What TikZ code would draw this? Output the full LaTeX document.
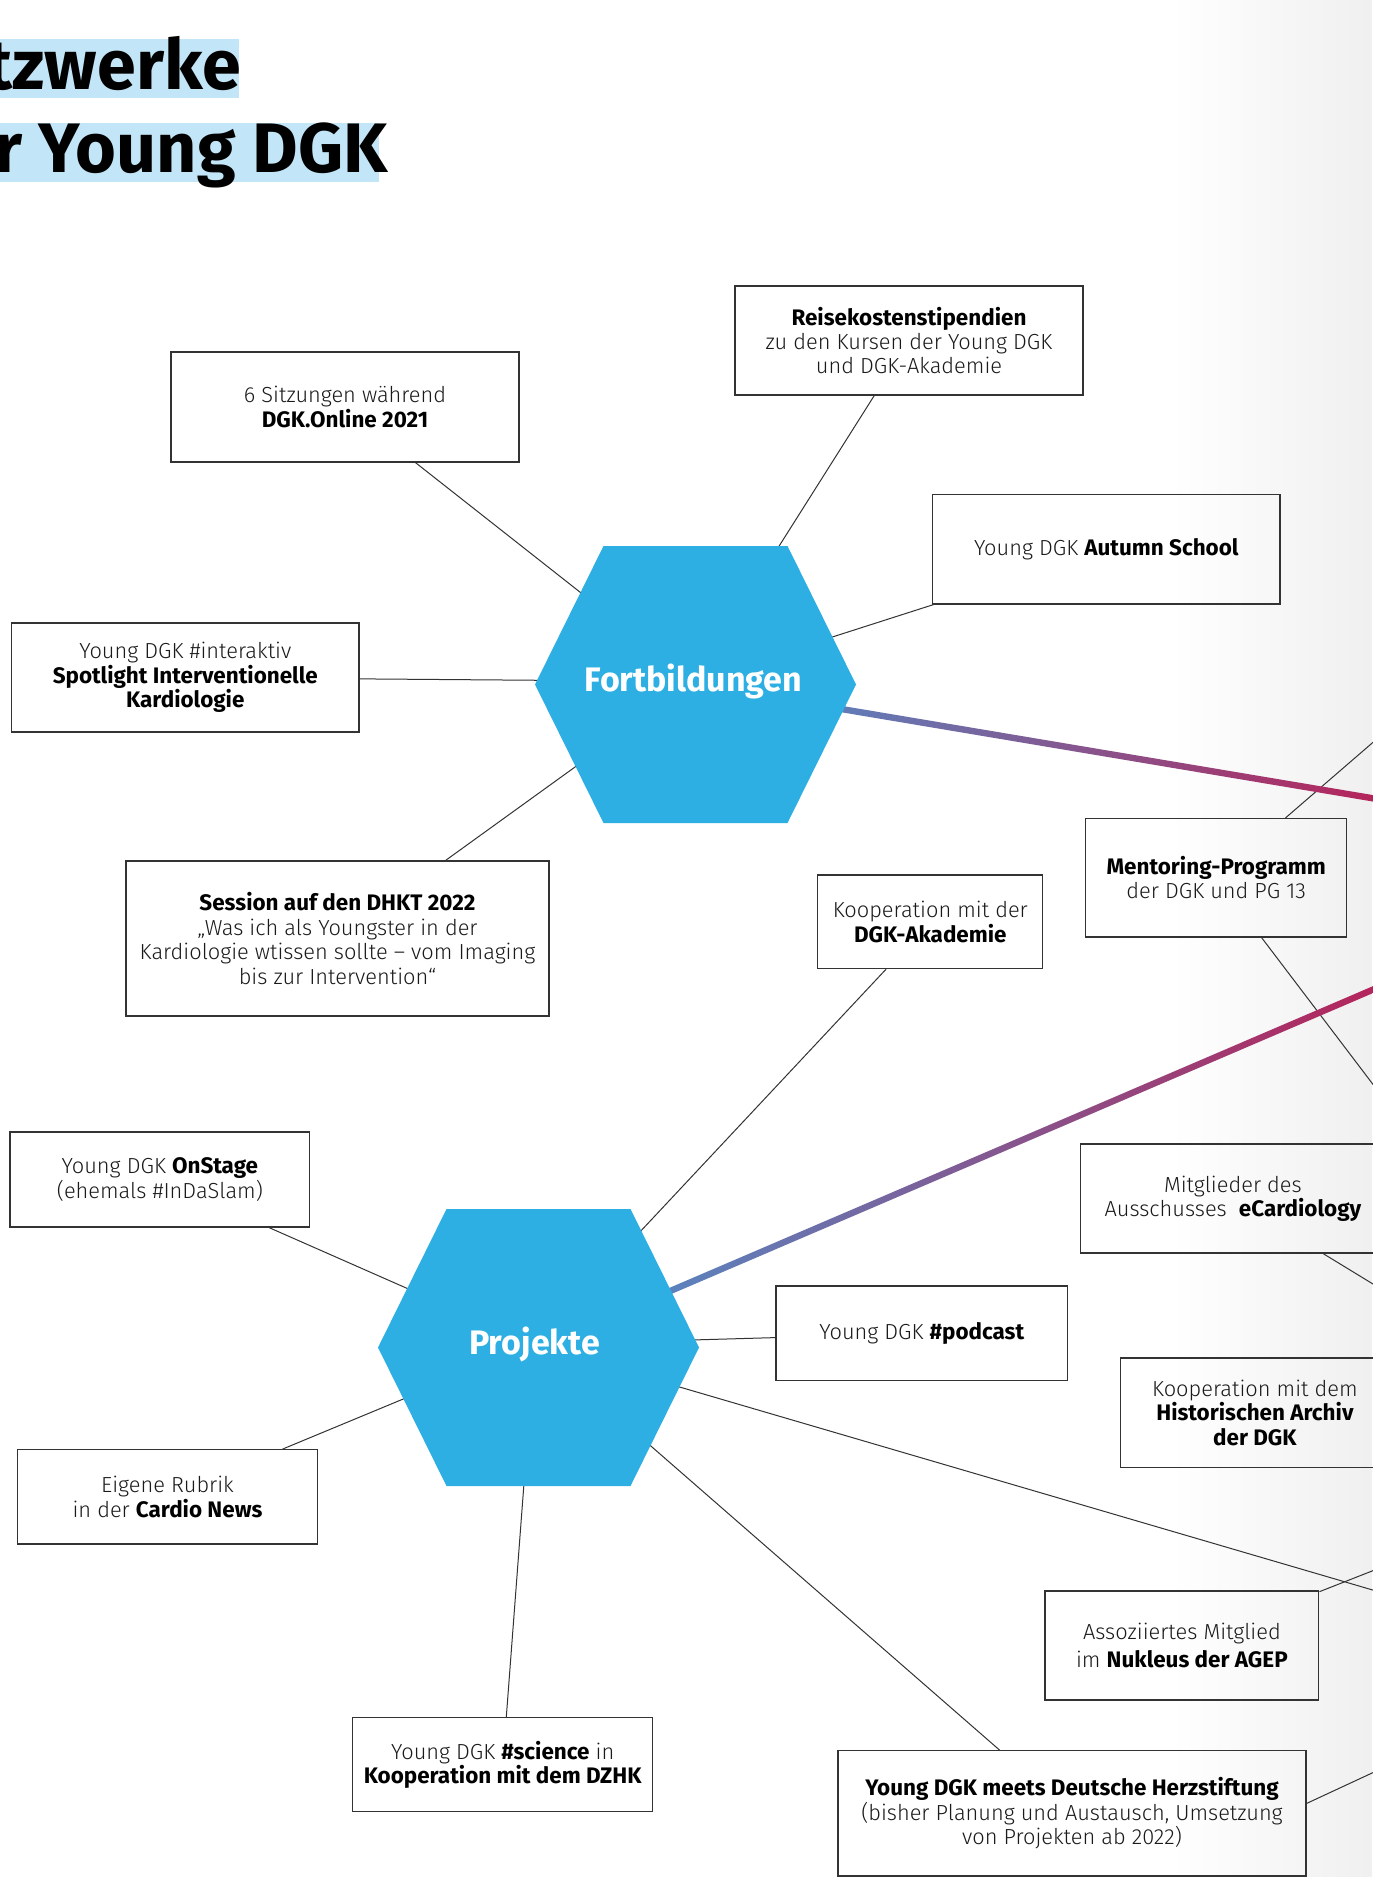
\documentclass[tikz,border=0pt]{standalone}
\usepackage{fontspec}
\setmainfont{Fira Sans Light}[BoldFont={Fira Sans Bold}, BoldFeatures={Scale=1.03}]
\usetikzlibrary{calc}
\definecolor{hexblue}{HTML}{2EAFE3}
\definecolor{hilite}{HTML}{C2E6F7}
\definecolor{lblue}{HTML}{4A94D0}
\definecolor{lred}{HTML}{B5245A}
\definecolor{ink}{HTML}{333333}
\definecolor{txt}{HTML}{1A1A1A}
\pgfdeclarelayer{back}
\pgfdeclarelayer{lines}
\pgfsetlayers{back,lines,main}
\newcommand\bfx[1]{\textbf{\color{black}#1}}
\tikzset{
  card/.style={draw=ink, line width=0.65pt, align=center, text=txt,
    font=\fontsize{10.9}{12.2}\selectfont, inner sep=0pt},
  conn/.style={draw=ink, line width=0.5pt},
  hexlabel/.style={text=white, font=\bfseries\fontsize{16.5}{20}\selectfont, inner sep=0pt},
  titletext/.style={anchor=base east, inner sep=0pt, font=\bfseries\fontsize{34}{40}\selectfont},
  gradline/.style={left color=lblue, right color=lred},
}
\newcommand\hexagonat[1]{\fill[hexblue] (#1) ++(-160.5,0) -- ++(68.5,-138.5) -- ++(184,0) -- ++(68.5,138.5) -- ++(-68.5,138.5) -- ++(-184,0) -- cycle;}
\begin{document}
\begin{tikzpicture}[x=0.5pt,y=-0.5pt]
\useasboundingbox (0,0) rectangle (1372,1877);
\begin{pgfonlayer}{back}
  \fill[white] (0,0) rectangle (1372,1877);
  \shade[left color=white, right color=gray!12] (1170,0) rectangle (1372,1877);
\end{pgfonlayer}

% title
\fill[hilite] (-10,39) rectangle (239,98);
\fill[hilite] (-10,123) rectangle (379,182);
\node[titletext] (t1) at (241,90) {Netzwerke};
\node[titletext] (t2) at (388,173) {der Young DGK};

% hexagons
\coordinate (fortc) at (695.5,684.5);
\coordinate (projc) at (538.5,1347.5);
\hexagonat{fortc}
\hexagonat{projc}
\node[hexlabel] (fort) at ($(fortc)+(-2,-3)$) {Fortbildungen};
\node[hexlabel] (proj) at ($(projc)+(-4,-3)$) {Projekte};

% boxes
\node[card, minimum width=174pt, minimum height=55pt] (sitz) at (345,407)
  {6 Sitzungen während\\\bfx{DGK.Online 2021}};
\node[card, minimum width=174pt, minimum height=54.5pt] (reise) at (909,340.5)
  {\bfx{Reisekostenstipendien}\\zu den Kursen der Young DGK\\und DGK-Akademie};
\node[card, minimum width=173.7pt, minimum height=54.75pt] (autumn) at (1106.3,549.2)
  {Young DGK \bfx{Autumn School}};
\node[card, minimum width=173.75pt, minimum height=54.5pt] (inter) at (185.3,677.5)
  {Young DGK \#interaktiv\\\bfx{Spotlight Interventionelle}\\\bfx{Kardiologie}};
\node[card, minimum width=211.5pt, minimum height=77.5pt] (session) at (337.5,938.5)
  {\bfx{Session auf den DHKT 2022}\\„Was ich als Youngster in der\\Kardiologie wtissen sollte – vom Imaging\\bis zur Intervention“};
\node[card, minimum width=130.5pt, minimum height=59.2pt] (mentor) at (1216.2,877.8)
  {\bfx{Mentoring-Programm}\\der DGK und PG 13};
\node[card, minimum width=112.5pt, minimum height=46.75pt] (akad) at (930.3,921.8)
  {Kooperation mit der\\\bfx{DGK-Akademie}};
\node[card, minimum width=145.8pt, minimum height=47.35pt] (podcast) at (921.8,1333.4)
  {Young DGK \bfx{\#podcast}};
\node[card, minimum width=152.2pt, minimum height=54.5pt] (ecard) at (1232.9,1198.5)
  {Mitglieder des\\Ausschusses\ \ \bfx{eCardiology}};
\node[card, minimum width=134.2pt, minimum height=54.85pt] (archiv) at (1254.9,1412.9)
  {Kooperation mit dem\\\bfx{Historischen Archiv}\\\bfx{der DGK}};
\node[card, minimum width=136.9pt, minimum height=54.5pt] (agep) at (1181.9,1645.5)
  {Assoziiertes Mitglied\\[2pt]im \bfx{Nukleus der AGEP}};
\node[card, minimum width=234pt, minimum height=62.65pt] (herz) at (1072,1813.4)
  {\bfx{Young DGK meets Deutsche Herzstiftung}\\(bisher Planung und Austausch, Umsetzung\\von Projekten ab 2022)};
\node[card, minimum width=150pt, minimum height=47pt] (science) at (502.7,1764.7)
  {Young DGK \bfx{\#science} in\\\bfx{Kooperation mit dem DZHK}};
\node[card, minimum width=149.8pt, minimum height=47.15pt] (rubrik) at (167.5,1496.9)
  {Eigene Rubrik\\in der \bfx{Cardio News}};
\node[card, minimum width=149.85pt, minimum height=47.5pt] (onstage) at (159.9,1179.5)
  {Young DGK \bfx{OnStage}\\(ehemals \#InDaSlam)};

% off-page ends
\coordinate (offA) at (1400,719);
\coordinate (offB) at (1400,1120);
\coordinate (offC) at (1380,799.5);
\coordinate (offD) at (1380,986.6);
\coordinate (offE) at (1400,1300.5);
\coordinate (offF) at (1400,1598);
\coordinate (offG) at (1400,1560);
\coordinate (offH) at (1400,1760);

\begin{pgfonlayer}{lines}
  \draw[conn] (sitz) -- (fort);
  \draw[conn] (reise) -- (fort);
  \draw[conn] (autumn) -- (fort);
  \draw[conn] (inter) -- (fort);
  \draw[conn] (session) -- (fort);
  \draw[conn] (akad) -- (proj);
  \draw[conn] (podcast) -- (proj);
  \draw[conn] (onstage) -- (proj);
  \draw[conn] (rubrik) -- (proj);
  \draw[conn] (science) -- (proj);
  \draw[conn] (herz) -- (proj);
  \draw[conn] (proj) -- (offF);
  \draw[conn] (mentor) -- (offA);
  \draw[conn] (mentor) -- (offB);
  \draw[conn] (ecard) -- (offE);
  \draw[conn] (agep) -- (offG);
  \draw[conn] ([yshift=5pt]herz.east) -- (offH);
  \shade[gradline] ($(fortc)!1.6pt!90:(offC)$) -- ($(offC)!1.6pt!-90:(fortc)$)
     -- ($(offC)!1.6pt!90:(fortc)$) -- ($(fortc)!1.6pt!-90:(offC)$) -- cycle;
  \shade[gradline] ($(projc)!1.6pt!90:(offD)$) -- ($(offD)!1.6pt!-90:(projc)$)
     -- ($(offD)!1.6pt!90:(projc)$) -- ($(projc)!1.6pt!-90:(offD)$) -- cycle;
\end{pgfonlayer}
\end{tikzpicture}
\end{document}
